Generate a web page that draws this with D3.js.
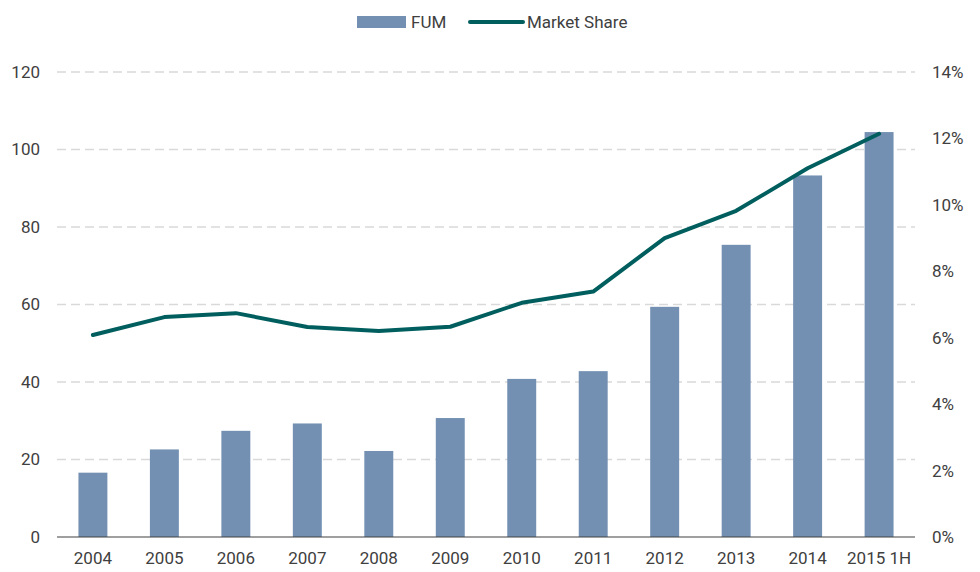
<!DOCTYPE html>
<html>
<head>
<meta charset="utf-8">
<script src="https://cdn.jsdelivr.net/npm/d3@7"></script>
<style>
  body { margin: 0; background: #fff; }
  text { font-family: "Liberation Sans Narrow", "Roboto", sans-serif; fill: #404040; }
</style>
</head>
<body>
<svg width="980" height="572"></svg>
<script>
var years = ["2004", "2005", "2006", "2007", "2008", "2009", "2010", "2011", "2012", "2013", "2014", "2015 1H"];
var fum = [16.6, 22.6, 27.4, 29.3, 22.2, 30.7, 40.8, 42.8, 59.4, 75.4, 93.3, 104.5];
var share = [6.08, 6.62, 6.74, 6.32, 6.2, 6.33, 7.05, 7.39, 9.0, 9.82, 11.1, 12.14];
var leftTicks = [0, 20, 40, 60, 80, 100, 120];
var rightTicks = [0, 2, 4, 6, 8, 10, 12, 14];

var svg = d3.select("svg"),
    margin = { top: 72, right: 65, bottom: 35, left: 57 },
    width = +svg.attr("width") - margin.left - margin.right,
    height = +svg.attr("height") - margin.top - margin.bottom;

var x = d3.scaleBand().domain(years).range([0, width]).paddingInner(0.595).paddingOuter(0.3);
var y = d3.scaleLinear().domain([0, 120]).range([height, 0]);
var y2 = d3.scaleLinear().domain([0, 14]).range([height, 0]);

var barColor = "#7390b3", lineColor = "#005f5e";

var g = svg.append("g").attr("transform", "translate(" + margin.left + "," + margin.top + ")");

// gridlines
g.append("g").selectAll("line").data(leftTicks.slice(1)).enter().append("line")
  .attr("x1", 0).attr("x2", width)
  .attr("y1", function (d) { return y(d); }).attr("y2", function (d) { return y(d); })
  .attr("stroke", "#d9d9d9").attr("stroke-width", 1.3).attr("stroke-dasharray", "9,5");

// bars
g.append("g").selectAll("rect").data(fum).enter().append("rect")
  .attr("x", function (d, i) { return x(years[i]); })
  .attr("y", function (d) { return y(d); })
  .attr("width", x.bandwidth())
  .attr("height", function (d) { return height - y(d); })
  .attr("fill", barColor);

// baseline
g.append("line").attr("x1", 0).attr("x2", width).attr("y1", height).attr("y2", height)
  .attr("stroke", "#404040").attr("stroke-width", 1.2);

// line
var line = d3.line()
  .x(function (d, i) { return x(years[i]) + x.bandwidth() / 2; })
  .y(function (d) { return y2(d); });
g.append("path").datum(share).attr("d", line)
  .attr("fill", "none").attr("stroke", lineColor).attr("stroke-width", 4)
  .attr("stroke-linecap", "round").attr("stroke-linejoin", "round");

// axes
var leftAxis = g.append("g").call(d3.axisLeft(y).tickValues(leftTicks).tickSize(0).tickPadding(17));
leftAxis.select(".domain").remove();
var rightAxis = g.append("g").attr("transform", "translate(" + width + ",0)")
  .call(d3.axisRight(y2).tickValues(rightTicks).tickSize(0).tickPadding(17).tickFormat(function (d) { return d + "%"; }));
rightAxis.select(".domain").remove();
var bottomAxis = g.append("g").attr("transform", "translate(0," + height + ")")
  .call(d3.axisBottom(x).tickSize(0).tickPadding(15));
bottomAxis.select(".domain").remove();
svg.selectAll(".tick text").attr("font-size", 17).attr("fill", "#404040")
  .style("font-family", "'Liberation Sans Narrow', Roboto, sans-serif");

// legend
var legend = svg.append("g").attr("transform", "translate(357,22)");
legend.append("rect").attr("x", 0).attr("y", -6).attr("width", 49).attr("height", 12).attr("fill", barColor);
legend.append("text").attr("x", 54).attr("y", 0).attr("dy", "0.35em").attr("font-size", 17).text("FUM");
legend.append("line").attr("x1", 113).attr("x2", 166).attr("y1", 0).attr("y2", 0)
  .attr("stroke", lineColor).attr("stroke-width", 4).attr("stroke-linecap", "round");
legend.append("text").attr("x", 170).attr("y", 0).attr("dy", "0.35em").attr("font-size", 17).text("Market Share");
</script>
</body>
</html>
